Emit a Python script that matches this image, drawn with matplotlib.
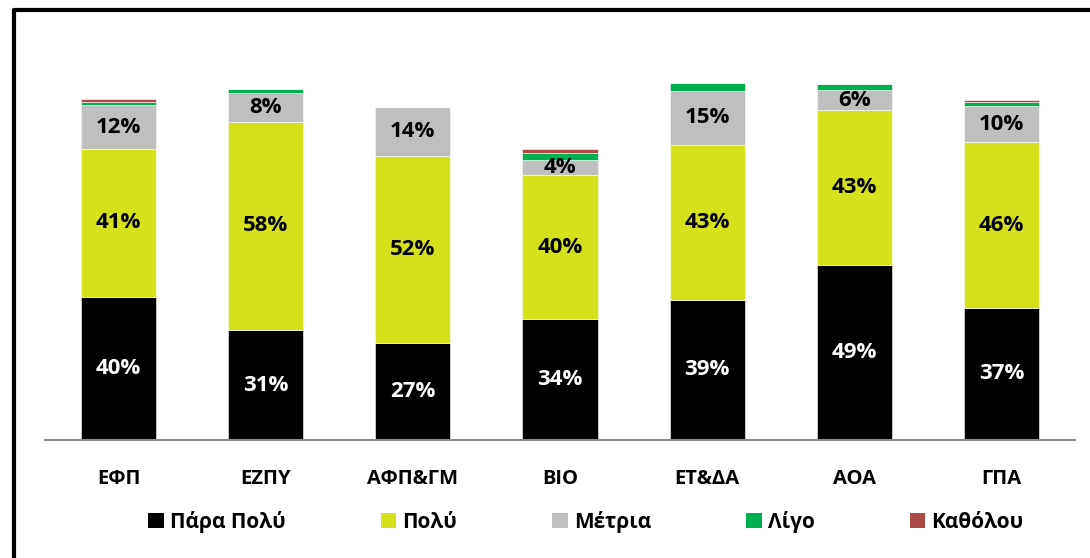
import numpy as np
import matplotlib
matplotlib.use("Agg")
import matplotlib.pyplot as plt
from matplotlib.patches import Rectangle, Patch

categories = ["ΕΦΠ", "ΕΖΠΥ", "ΑΦΠ&ΓΜ", "ΒΙΟ", "ΕΤ&ΔΑ", "ΑΟΑ", "ΓΠΑ"]
series_names = ["Πάρα Πολύ", "Πολύ", "Μέτρια", "Λίγο", "Καθόλου"]
para_poly = [40.1, 30.8, 27.1, 33.8, 39.3, 48.9, 37.0]
poly = [41.4, 58.4, 52.4, 40.4, 43.3, 43.4, 46.4]
metria = [12.3, 8.0, 13.8, 4.2, 15.2, 5.7, 10.2]
ligo = [1.0, 1.0, 0.0, 2.0, 2.1, 1.6, 1.2]
katholou = [0.8, 0.0, 0.0, 1.2, 0.0, 0.0, 0.5]

colors = ["#000000", "#d5e11b", "#bfbfbf", "#00b050", "#ab4a47"]
label_colors = ["white", "black", "black", None, None]

plt.rcParams["font.family"] = ["Open Sans", "DejaVu Sans"]

W, H = 1090, 558
fig = plt.figure(figsize=(W / 100, H / 100), dpi=100)
ax = fig.add_axes([45 / W, (H - 440) / H, 1030 / W, (440 - 83) / H])

x = np.arange(len(categories))
series = [para_poly, poly, metria, ligo, katholou]
bottom = np.zeros(len(categories))
for vals, name, col, lc in zip(series, series_names, colors, label_colors):
    vals = np.asarray(vals)
    ax.bar(x, vals, width=0.51, bottom=bottom, color=col, edgecolor="white",
           linewidth=0.4, label=name, zorder=2)
    if lc is not None:
        for xi, b, v in zip(x, bottom, vals):
            ax.text(xi, b + v / 2, f"{v:.0f}%", ha="center", va="center",
                    fontsize=16, fontweight="bold", color=lc, zorder=3)
    bottom += vals

ax.set_xlim(-0.5, len(categories) - 0.5)
ax.set_ylim(0, 100)
ax.set_yticks([])
for side in ["top", "right", "left"]:
    ax.spines[side].set_visible(False)
ax.spines["bottom"].set_color("#8c8c8c")
ax.spines["bottom"].set_linewidth(1.5)
ax.set_xticks(x)
ax.set_xticklabels(categories, fontsize=14.5, fontweight="bold")
ax.tick_params(axis="x", length=0, pad=21)

handles = [Patch(facecolor=c, edgecolor="none") for c in colors]
fig.legend(handles, series_names, loc="center", bbox_to_anchor=(586 / W, (H - 522) / H),
           ncol=5, frameon=False, handlelength=0.75, handleheight=0.75,
           handletextpad=0.3, columnspacing=4.55,
           prop={"weight": "bold", "size": 15})

fig.patches.append(Rectangle((14 / W, -0.05), 1.2, (H - 10) / H + 0.05,
                             transform=fig.transFigure, fill=False,
                             edgecolor="black", linewidth=3, joinstyle="round"))

fig.savefig("out.png", dpi=100, facecolor="white")
